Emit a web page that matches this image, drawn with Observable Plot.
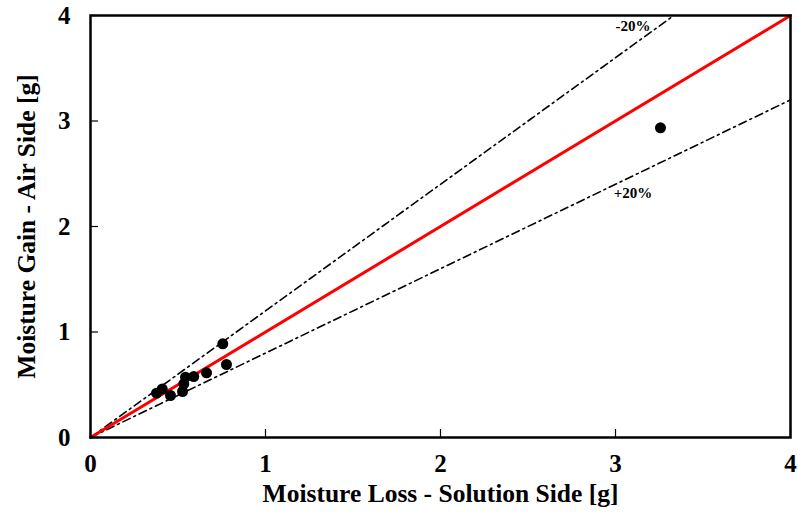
<!DOCTYPE html>
<html>
<head>
<meta charset="utf-8">
<script src="https://cdn.jsdelivr.net/npm/d3@7"></script>
<script src="https://cdn.jsdelivr.net/npm/@observablehq/plot@0.6"></script>
<style>
  html, body { margin: 0; padding: 0; background: #fff; }
</style>
</head>
<body>
<div id="chart"></div>
<script>
// Measured moisture transfer: loss on the solution side vs gain on the air side [g]
const moistureLoss = [0.377, 0.41, 0.457, 0.526, 0.533, 0.543, 0.59, 0.663, 0.756, 0.777, 3.257];
const moistureGain = [0.42, 0.46, 0.398, 0.436, 0.509, 0.572, 0.578, 0.613, 0.888, 0.692, 2.935];

// Reference lines: perfect agreement and the ±20% band
const lineX = [0, 4];
const bandSlopes = [1.2, 0.8];
const bandLabels = ["-20%", "+20%"];
const bandLabelX = [3.1, 3.1];
const bandLabelY = [3.9, 2.32];

const axisTicks = [0, 1, 2, 3, 4];
const xTitle = "Moisture Loss - Solution Side [g]";
const yTitle = "Moisture Gain - Air Side [g]";

const width = 798, height = 512;
const margin = {top: 15, right: 8, bottom: 75, left: 90};
const plotW = width - margin.left - margin.right;
const plotH = height - margin.top - margin.bottom;

const points = moistureLoss.map((x, i) => ({x, y: moistureGain[i]}));
const identity = lineX.map(x => ({x, y: x}));
const bands = bandSlopes.map(k => {
  const xEnd = Math.min(4, 4 / k);
  return [{x: 0, y: 0}, {x: xEnd, y: k * xEnd}];
});
const labels = bandLabels.map((t, i) => ({t, x: bandLabelX[i], y: bandLabelY[i]}));

const chart = Plot.plot({
  width, height,
  marginTop: margin.top, marginRight: margin.right,
  marginBottom: margin.bottom, marginLeft: margin.left,
  style: {fontFamily: "'Liberation Serif', 'Times New Roman', serif", fontWeight: "bold", fontSize: "25px", color: "#000", background: "#fff"},
  x: {domain: [0, 4]},
  y: {domain: [0, 4]},
  marks: [
    ...bands.map(b => Plot.line(b, {x: "x", y: "y", stroke: "#000", strokeWidth: 1.6, strokeDasharray: "8,4,2,4"})),
    Plot.line(identity, {x: "x", y: "y", stroke: "#ff0000", strokeWidth: 3}),
    Plot.dot(points, {x: "x", y: "y", r: 5.5, fill: "#000", stroke: "none"}),
    Plot.text(labels, {x: "x", y: "y", text: "t", fontSize: 15, fontWeight: "bold", fill: "#000"}),
    // inward tick marks
    Plot.tickX(axisTicks, {x: d => d, stroke: "#000", strokeWidth: 1.2, insetTop: plotH - 8}),
    Plot.tickY(axisTicks, {y: d => d, stroke: "#000", strokeWidth: 1.2, insetRight: plotW - 8}),
    Plot.axisX(axisTicks, {tickSize: 0, tickPadding: 17, tickFormat: d3.format("d"), label: null}),
    Plot.axisY(axisTicks, {tickSize: 0, tickPadding: 20, tickFormat: d3.format("d"), label: null}),
    // axis titles
    Plot.text([xTitle], {frameAnchor: "bottom", textAnchor: "middle", dy: 64, fontSize: 25.5, fontWeight: "bold", fill: "#000"}),
    Plot.text([yTitle], {frameAnchor: "left", textAnchor: "middle", dx: -64, rotate: -90, fontSize: 25.5, fontWeight: "bold", fill: "#000"}),
    Plot.frame({stroke: "#000", strokeWidth: 2.5})
  ]
});

document.getElementById("chart").appendChild(chart);
</script>
</body>
</html>
